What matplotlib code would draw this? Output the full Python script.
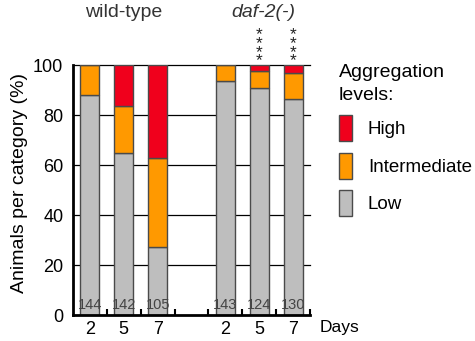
import numpy as np
import matplotlib.pyplot as plt
from matplotlib.patches import Patch

plt.rcParams['font.family'] = ['Liberation Sans', 'DejaVu Sans']

# bar positions (3 is the gap between the two strains)
pos = [0, 1, 2, 4, 5, 6]
day_labels = ['2', '5', '7', '2', '5', '7']
counts = ['144', '142', '105', '143', '124', '130']

low = np.array([88, 64.7, 27.3, 93.6, 90.9, 86.3])
intermediate = np.array([12, 18.9, 35.4, 6.4, 6.7, 10.4])
high = 100 - low - intermediate

c_low = '#bebebe'
c_int = '#ff9900'
c_high = '#f0001c'
edge = '#4a4a4a'

fig = plt.figure(figsize=(4.75, 3.41), dpi=100)
ax = fig.add_axes([0.1537, 0.0762, 0.4989, 0.7331])

w = 0.56
ax.bar(pos, low, w, color=c_low, edgecolor=edge, lw=1, zorder=3)
ax.bar(pos, intermediate, w, bottom=low, color=c_int, edgecolor=edge, lw=1, zorder=3)
ax.bar(pos, high, w, bottom=low + intermediate, color=c_high, edgecolor=edge, lw=1, zorder=3)

for y in [20, 40, 60, 80, 100]:
    ax.axhline(y, color='black', lw=0.9, zorder=1, clip_on=False)

ax.set_xlim(-0.5, 6.5)
ax.set_ylim(0, 100)
for s in ['top', 'right']:
    ax.spines[s].set_visible(False)
ax.spines['left'].set_linewidth(2)
ax.spines['bottom'].set_linewidth(2)
ax.spines['bottom'].set_zorder(5)

ax.set_yticks([0, 20, 40, 60, 80, 100])
ax.tick_params(axis='y', length=0, pad=7, labelsize=13)
ax.set_xticks(pos)
ax.set_xticklabels(day_labels)
ax.tick_params(axis='x', which='major', length=0, pad=4, labelsize=13)
ax.set_xticks(np.arange(0.5, 7, 1), minor=True)
ax.tick_params(axis='x', which='minor', direction='in', length=4, width=1.5, color='black')

ax.set_ylabel('Animals per category (%)', fontsize=14)
ax.yaxis.set_label_coords(-0.19, 0.53)

for p, c in zip(pos, counts):
    ax.text(p, 1.2, c, ha='center', va='bottom', fontsize=10.5, color='#444444', zorder=4)

ax.text(6.77, -0.048, 'Days', transform=ax.get_xaxis_transform(), ha='left', va='center', fontsize=12.5)

ax.text(1, 1.21, 'wild-type', transform=ax.get_xaxis_transform(), ha='center', va='center',
        fontsize=14, color='#333333')
ax.text(5.12, 1.21, 'daf-2(-)', transform=ax.get_xaxis_transform(), ha='center', va='center',
        fontsize=14, style='italic', color='#333333')

for p in [5, 6]:
    ax.text(p, 98.6, '*\n*\n*\n*', ha='center', va='bottom', fontsize=12.5,
            linespacing=0.48, color='#222222', clip_on=False)

handles = [Patch(facecolor=c_high, edgecolor=edge, label='High'),
           Patch(facecolor=c_int, edgecolor=edge, label='Intermediate'),
           Patch(facecolor=c_low, edgecolor=edge, label='Low')]
leg = ax.legend(handles=handles, title='Aggregation\nlevels:', frameon=False,
                loc='upper left', bbox_to_anchor=(1.09, 1.035), fontsize=13.5,
                title_fontsize=14, handlelength=0.7, handleheight=1.75,
                labelspacing=0.62, handletextpad=0.85, alignment='left', borderaxespad=0)
leg.get_title().set_linespacing(1.45)

fig.savefig('out.png', dpi=100)
